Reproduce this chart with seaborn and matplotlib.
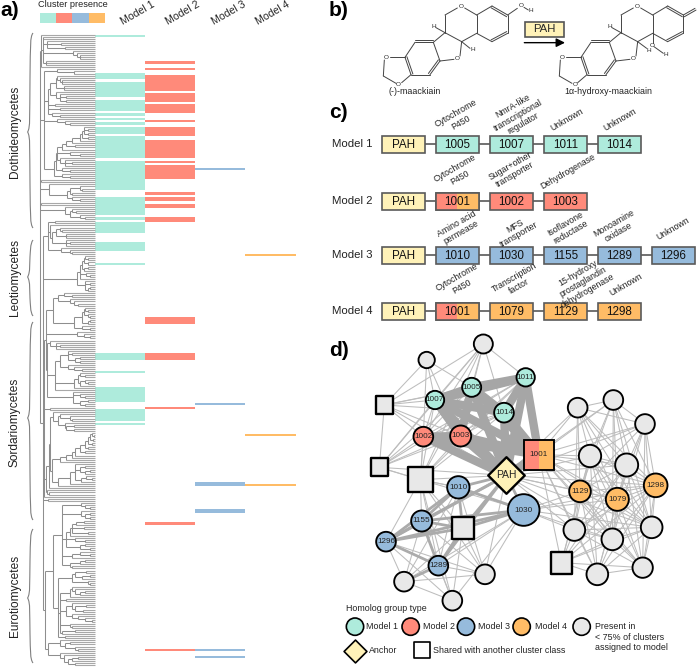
# fungal gene cluster figure: presence table, reaction, cluster models, network

import itertools
import numpy as np
import pandas as pd
import matplotlib
matplotlib.use("Agg")
import matplotlib.pyplot as plt
from matplotlib.colors import ListedColormap
from matplotlib.patches import PathPatch, Rectangle
from matplotlib.path import Path
import seaborn as sns

W, H = 699, 667

TEAL = "#AEEBDC"
RED = "#FF8A7A"
BLUE = "#96BBDC"
ORANGE = "#FFBC66"
CREAM = "#FFF2B8"
NODE_GREY = "#E8E8E8"

# a) presence ranges, in picture rows along the tree
model_1_rows = [(34.5, 36.5), (73, 79), (82, 97), (100, 111), (113, 116), (118, 120), (122, 125),
                (127, 134), (136, 158), (161, 190), (197, 215), (217, 220), (222, 233), (242, 251),
                (263, 265), (353, 360), (371, 373), (387, 402), (409, 421), (423, 425)]
model_2_rows = [(61, 64), (68, 70), (75, 91), (93, 102), (104, 113), (120, 122), (127, 136),
                (140, 158), (161, 163), (165, 179), (192, 195), (197, 201), (204, 208), (217, 222),
                (317, 324), (353, 360), (407, 409), (522, 525), (649, 651)]
model_3_rows = [(168, 170), (403, 405), (482, 486), (509, 513), (649, 651), (656, 658)]
model_4_rows = [(254, 256), (434, 436), (484, 486)]
model_labels = ["Model 1", "Model 2", "Model 3", "Model 4"]

# a) tree: x of the node where each tip joins the next one
tree_gaps = [
    41, 43, 43, 47, 61, 47, 65, 43, 73, 77, 80, 80, 43, 46, 46, 41, 40,
    57, 74, 44,
    57, 60, 62, 62, 56, 64, 64, 50, 56, 60, 66, 60, 66, 48, 55, 48, 60, 48, 52, 60, 44,
    57, 65, 70, 44,
    84, 88, 84, 88, 82, 88, 80, 72, 66, 75, 62, 57, 70, 80, 57, 60, 65, 72, 65, 56, 62, 70, 54, 62, 70, 40,
    41, 40,
    49, 80, 82, 70, 72, 67, 72, 80, 40, 41, 40,
    65, 72, 76, 70, 80, 85, 40,
    55, 48, 50, 60, 62, 56, 66, 66, 52, 66, 70, 66, 48, 61, 70, 72, 43,
    85, 88, 84, 88, 82, 88, 84, 80, 86, 90, 80, 77, 85, 90, 85, 90, 88, 43,
    64, 72, 58, 70, 74, 78, 53, 85, 88, 84, 88, 90, 82, 90, 88, 74, 82, 90, 46,
    77, 84, 90, 46,
    50, 56, 60, 56, 47,
    68, 72, 68, 80, 75, 80, 60, 68, 74, 82, 55,
    80, 85, 78, 85, 88, 80, 74, 55, 47,
    73, 80, 85, 73, 88, 80, 85, 44, 50, 44,
    53, 60, 70, 72, 58, 65, 74, 66, 74, 50,
    92, 94, 90, 93, 88, 92, 85, 88, 80, 85, 75, 72, 66, 60, 52,
    75, 85, 80, 90, 85, 75, 86, 92, 81, 70, 58, 49, 46, 47, 49, 44, 43, 48, 43,
    81, 85, 90, 62, 81, 90, 85, 90, 62, 84, 76, 72, 84, 72, 88, 70, 66, 75, 85, 66, 85, 80, 90, 62, 80, 90, 72, 62, 85, 80, 70,
    72, 53, 86, 75, 90, 82, 72, 88, 90, 58,
    72, 75, 85, 80, 70, 60, 66, 60, 72, 86, 75, 83, 66, 72, 78, 85, 92, 60,
    70, 72, 60, 75, 62, 58, 65, 45, 60, 70, 65, 75, 78, 48, 60, 64, 78, 72, 68, 75,
]
tree_y_top, tree_y_bottom = 34.5, 665
tree_x_end = 94.6

# a) clade labels: name, label centre, brace top, brace tip, brace bottom
clade_names = ["Dothideomycetes", "Leotiomycetes", "Sordariomycetes", "Eurotiomycetes"]
clade_centre = [132, 277, 422, 596]
brace_top = [33, 240, 322, 529]
brace_mid = [132, 277, 418, 598]
brace_bottom = [228, 316, 520, 663]

# c) cluster models: homolog groups and their annotations
cluster_1_ids = ["1005", "1007", "1011", "1014"]
cluster_2_ids = ["1001", "1002", "1003"]
cluster_3_ids = ["1010", "1030", "1155", "1289", "1296"]
cluster_4_ids = ["1001", "1079", "1129", "1298"]
cluster_1_notes = ["Cytochrome\nP450", "NmrA-like\ntranscriptional\nregulator", "Unknown", "Unknown"]
cluster_2_notes = ["Cytochrome\nP450", "Sugar+other\ntransporter", "Dehydrogenase"]
cluster_3_notes = ["Amino acid\npermease", "MFS\ntransporter", "Isoflavone\nreductase", "Monoamine\noxidase", "Unknown"]
cluster_4_notes = ["Cytochrome\nP450", "Transcription\nfactor", "15-hydroxy\nprostaglandin\ndehydrogenase", "Unknown"]

# d) network nodes
node_names = ["g1", "g2", "g3", "g4", "g5", "g6", "g7", "g8", "g9", "g10", "g11", "g12", "g13", "g14", "g15",
              "s1", "s2", "s3", "s4", "s5",
              "1005", "1007", "1011", "1014", "1002", "1003",
              "1010", "1030", "1155", "1296", "1289",
              "1129", "1079", "1298", "1001", "PAH"]
node_x = [320, 490, 773, 880, 975, 810, 920, 763, 877, 995, 832, 968, 252, 397, 495,
          193, 178, 301, 428, 724,
          455, 345, 617, 552, 310, 422,
          415, 611, 305, 198, 355,
          780, 892, 1007, 656, 559]
node_y = [90, 42, 233, 210, 282, 378, 405, 600, 628, 592, 733, 713, 755, 812, 733,
          225, 412, 449, 595, 698,
          172, 210, 142, 248, 320, 318,
          472, 540, 573, 635, 707,
          484, 508, 466, 374, 436]
node_size = [54, 62, 64, 64, 64, 72, 74, 70, 70, 70, 70, 66, 64, 64, 64,
             58, 58, 80, 72, 70,
             62, 60, 60, 64, 64, 68,
             72, 100, 68, 64, 64,
             70, 74, 76, 90, 78]
node_kind = ["grey"] * 15 + ["square"] * 5 + ["m1"] * 4 + ["m2"] * 2 + ["m3"] * 5 + ["m4"] * 3 + ["split", "anchor"]

heavy_edges = [("1005", "1011"), ("1007", "1005"), ("1007", "1014"), ("1007", "1011"), ("1007", "PAH"), ("1005", "PAH"),
               ("1014", "PAH"), ("1011", "PAH"), ("1002", "1003"), ("1002", "PAH"), ("1003", "PAH"), ("1005", "1014"),
               ("1011", "1014"), ("1011", "1001"), ("1014", "1001"), ("1005", "1001"), ("1003", "1001"), ("1002", "1001"),
               ("1007", "1003"), ("1005", "1003"), ("1007", "1001"), ("PAH", "1001")]
medium_edges = [("PAH", "1010"), ("PAH", "1030"), ("PAH", "1155"), ("PAH", "1296"), ("PAH", "1289"), ("PAH", "s4"),
                ("1010", "1155"), ("1010", "1296"), ("1010", "1030"), ("1155", "1296"), ("1155", "s4"), ("1296", "s4"),
                ("1296", "1289"), ("1155", "1289"), ("1289", "s4"), ("1030", "s4"), ("1010", "s4"), ("1289", "g13"),
                ("1155", "1030"), ("1296", "1030")]
left_group = ["g1", "g2", "s1", "s2", "s3", "1007", "1005", "1011", "1014", "1002", "1003"]
lower_group = ["s3", "1010", "1155", "1296", "1289", "s4", "g13", "g14", "g15", "1030"]
right_group = ["g3", "g4", "g5", "g6", "g7", "1129", "1079", "1298", "g8", "g9", "g10", "g11", "g12", "s5", "1001"]
hub_links = ["g3", "g4", "g5", "g6", "g7", "1129", "1079", "1298", "g8", "g9", "g10", "s1", "s2", "s3", "g15"]
skipped_edges = [("g1", "g2"), ("g1", "s2"), ("g1", "s3"), ("g3", "g11"), ("g4", "g11"), ("g3", "g12"), ("g4", "g12"),
                 ("g5", "s5"), ("g4", "s5"), ("g3", "s5"), ("g5", "g11"), ("g3", "g9"), ("g4", "g8"), ("g5", "g8"),
                 ("s1", "s3"), ("g14", "g15"), ("g13", "s3"), ("g14", "1010"), ("g1", "1011"), ("g1", "1014")]

sns.set_theme(style="white")
plt.rcParams["font.family"] = ["Liberation Sans", "DejaVu Sans"]

fig = plt.figure(figsize=(W / 100, H / 100), dpi=100)


def px_axes(left, top, right, bottom, xlim=None, ylim=None, zorder=1):
    # axes placed by picture pixels
    ax = fig.add_axes([left / W, 1 - bottom / H, (right - left) / W, (bottom - top) / H], zorder=zorder)
    ax.set_xlim(xlim if xlim else (left, right))
    ax.set_ylim(ylim if ylim else (bottom, top))
    ax.axis("off")
    ax.patch.set_alpha(0)
    return ax


main = px_axes(0, 0, W, H, zorder=3)

for letter, x, y in [("a)", 0, 11), ("b)", 329, 10), ("c)", 329, 112), ("d)", 329, 350)]:
    main.text(x, y, letter, fontsize=15, fontweight="bold", va="center", ha="left", color="black")

# ---- a) presence table
table = np.zeros((1268, 4))
for k, rows in enumerate([model_1_rows, model_2_rows, model_3_rows, model_4_rows]):
    for a, b in rows:
        table[int((a - 33) * 2):int((b - 33) * 2), k] = k + 1
bar_ax = fig.add_axes([95 / W, 0, 200.6 / W, 634 / H], zorder=1)
model_cmap = ListedColormap([TEAL, RED, BLUE, ORANGE])
sns.heatmap(table, mask=table == 0, cmap=model_cmap, vmin=1, vmax=4, cbar=False,
            xticklabels=False, yticklabels=False, ax=bar_ax)
bar_ax.axis("off")

key_ax = fig.add_axes([39.5 / W, 1 - 22.7 / H, 65.8 / W, 10.2 / H], zorder=1)
sns.heatmap(np.array([[1, 2, 3, 4]]), cmap=model_cmap, vmin=1, vmax=4, cbar=False,
            xticklabels=False, yticklabels=False, ax=key_ax)
key_ax.axis("off")
main.text(72.5, 4.5, "Cluster presence", fontsize=6.6, ha="center", va="center", color="#222222")

for label, x in zip(model_labels, [138, 183, 229, 273]):
    main.text(x, 13.5, label, fontsize=7.6, rotation=30, ha="center", va="center", rotation_mode="anchor")

# tree from the merge positions
n_tips = len(tree_gaps) + 1
tip_y = np.linspace(tree_y_top, tree_y_bottom, n_tips)
tree_h, tree_v, tip_h = [], [], []


def build(lo, hi):
    # tips lo..hi inclusive, returns (node x, node y)
    if lo == hi:
        return None, tip_y[lo]
    part = tree_gaps[lo:hi]
    node_at = min(part)
    cuts = [lo + i for i, g in enumerate(part) if g == node_at]
    starts = [lo] + [c + 1 for c in cuts]
    ends = cuts + [hi]
    child_y = []
    for s, e in zip(starts, ends):
        cx, cy = build(s, e)
        child_y.append(cy)
        if cx is None:
            tip_h.append((cy, node_at, tree_x_end))
        else:
            tree_h.append((cy, node_at, cx))
    tree_v.append((node_at, child_y[0], child_y[-1]))
    return node_at, (child_y[0] + child_y[-1]) / 2


build(0, n_tips - 1)
tip_arr = np.array(tip_h)
h_arr = np.array(tree_h)
v_arr = np.array(tree_v)
main.hlines(tip_arr[:, 0], tip_arr[:, 1], tip_arr[:, 2], color="#A8A8A8", lw=0.8)
main.hlines(h_arr[:, 0], h_arr[:, 1], h_arr[:, 2], color="#8E8E8E", lw=0.75)
main.vlines(v_arr[:, 0], v_arr[:, 1], v_arr[:, 2], color="#8E8E8E", lw=0.75)


def brace(y0, ym, y1):
    verts = [(33, y0), (30, y0 + 4), (30.5, y0 + 12), (30, y0 + (ym - y0) * 0.45),
             (29.5, ym - 14), (30.5, ym - 5), (27.6, ym),
             (30.5, ym + 5), (29.5, ym + 14), (30, y1 - (y1 - ym) * 0.45),
             (30.5, y1 - 12), (30, y1 - 4), (33, y1)]
    codes = [Path.MOVETO] + [Path.CURVE4] * 12
    main.add_patch(PathPatch(Path(verts, codes), fc="none", ec="#808080", lw=0.8))


for name, c, t, m, b in zip(clade_names, clade_centre, brace_top, brace_mid, brace_bottom):
    main.text(15, c, name, fontsize=8.6, rotation=90, ha="center", va="center", color="#222222")
    brace(t, m, b)

# ---- b) reaction, in crop units of a 3x view
chem = px_axes(320, 0, W, 112, xlim=(0, 1137), ylim=(336, 0), zorder=2)
ring_bonds = [(375, 45, 412, 24, 0), (434, 24, 470, 45, 0), (470, 45, 470, 100, 0), (470, 100, 425, 125, 0),
              (425, 125, 375, 98, 0), (375, 45, 375, 98, 0), (375, 98, 340, 127, 0), (340, 127, 285, 127, 1),
              (285, 127, 255, 172, 0), (255, 172, 273, 224, -1), (273, 224, 330, 224, 0), (330, 224, 360, 183, -1),
              (360, 183, 340, 127, 0), (360, 183, 402, 178, 0), (420, 168, 425, 125, 0), (375, 98, 348, 83, 0),
              (255, 172, 210, 172, 0), (193, 180, 190, 228, 0), (190, 228, 228, 250, 0), (245, 248, 273, 224, 0)]
left_only = [(470, 45, 516, 18, 0), (516, 18, 563, 45, 1), (563, 45, 592, 25, 0), (612, 22, 625, 30, 0),
             (563, 45, 563, 100, 0), (563, 100, 516, 125, 1), (516, 125, 470, 100, 0), (425, 125, 450, 145, 0)]
right_only = [(998, 45, 1043, 18, 0), (1043, 18, 1090, 45, 1), (1090, 45, 1125, 25, 1), (1090, 45, 1090, 100, 0),
              (1090, 100, 1043, 125, 1), (1043, 125, 998, 100, 0), (998, 100, 998, 130, 0), (1002, 140, 1030, 160, 0),
              (953, 125, 980, 145, 0)]


def draw_bonds(bonds, dx=0):
    for x0, y0, x1, y1, dbl in bonds:
        chem.plot([x0 + dx, x1 + dx], [y0, y1], color="#444444", lw=0.7, solid_capstyle="round")
        if dbl:
            nx, ny = -(y1 - y0), x1 - x0
            ln = np.hypot(nx, ny)
            off = 6 * dbl / ln
            chem.plot([x0 + dx + nx * off, x1 + dx + nx * off], [y0 + ny * off, y1 + ny * off], color="#444444", lw=0.7)


draw_bonds(ring_bonds)
draw_bonds(left_only)
draw_bonds(ring_bonds, dx=528)
draw_bonds(right_only)
for sym, x, y in [("O", 423, 18), ("O", 603, 17), ("H", 632, 33), ("H", 340, 78), ("H", 458, 148), ("O", 412, 174),
                  ("O", 200, 172), ("O", 236, 253), ("O", 951, 18), ("H", 868, 78), ("O", 940, 174), ("O", 728, 172),
                  ("O", 765, 253), ("O", 997, 136), ("H", 1038, 165), ("H", 985, 150)]:
    chem.text(x, y, sym, fontsize=4.6, ha="center", va="center", color="#222222")
chem.text(285, 276, "(-)-maackiain", fontsize=6.4, ha="center", va="center", color="#222222")
chem.text(865, 276, "1α-hydroxy-maackiain", fontsize=6.4, ha="center", va="center", color="#222222")
chem.add_patch(Rectangle((615, 65), 117, 45, fc=CREAM, ec="#555555", lw=1.2))
chem.text(673, 88, "PAH", fontsize=8.2, ha="center", va="center")
chem.annotate("", xy=(735, 128), xytext=(613, 128),
              arrowprops=dict(arrowstyle="-|>", color="black", lw=1.0, mutation_scale=13, shrinkA=0, shrinkB=0))

# ---- c) cluster models
row_top = [135.7, 192.7, 247, 302.7]
row_note_x = [(458, 518, 567, 620), (457, 513, 568), (459, 517, 568, 616, 673), (459, 517, 583, 626)]
row_note_y = [(118, 115, 120, 120), (173, 170, 172), (228, 230, 228, 228, 229), (282, 282, 282, 285)]
row_ids = [cluster_1_ids, cluster_2_ids, cluster_3_ids, cluster_4_ids]
row_notes = [cluster_1_notes, cluster_2_notes, cluster_3_notes, cluster_4_notes]
row_colour = [TEAL, RED, BLUE, ORANGE]
box_w, box_h, step = 43.3, 16.8, 54


def gene_box(x, y, colour, label):
    main.add_patch(Rectangle((x, y), box_w, box_h, fc=colour, ec="#5A5A5A", lw=1.2, zorder=3))
    main.text(x + box_w / 2, y + box_h / 2 + 0.6, label, fontsize=8.4, ha="center", va="center", zorder=5, color="#111111")


for r, (top, ids, notes, colour) in enumerate(zip(row_top, row_ids, row_notes, row_colour)):
    mid = top + box_h / 2
    main.text(331.5, mid, model_labels[r], fontsize=8.2, ha="left", va="center", color="#222222")
    main.plot([405, 381.7 + step * len(ids) + 20], [mid, mid], color="#666666", lw=1.3, zorder=2)
    gene_box(381.7, top, CREAM, "PAH")
    for i, (gid, note) in enumerate(zip(ids, notes)):
        x = 435.7 + step * i
        gene_box(x, top, colour, gid)
        if gid == "1001":
            # homolog group shared by models 2 and 4
            main.add_patch(Rectangle((x, top), box_w / 2, box_h, fc=RED, ec="none", zorder=3.1))
            main.add_patch(Rectangle((x + box_w / 2, top), box_w / 2, box_h, fc=ORANGE, ec="none", zorder=3.1))
            main.add_patch(Rectangle((x, top), box_w, box_h, fc="none", ec="#5A5A5A", lw=1.2, zorder=3.2))
        main.text(row_note_x[r][i], row_note_y[r][i], note, fontsize=6.3, rotation=30, ha="center", va="center",
                  ma="center", rotation_mode="anchor", linespacing=1.12, color="#222222")

# ---- d) network, in crop units of a 3x view
net = px_axes(320, 330, W, H, xlim=(0, 1137), ylim=(1011, 0), zorder=2)
nodes = pd.DataFrame({"name": node_names, "x": node_x, "y": node_y, "size": node_size, "kind": node_kind}).set_index("name")


def wanted(pairs):
    rows = []
    for n, (a, b) in enumerate(pairs):
        for end in (a, b):
            rows.append({"edge": n, "x": nodes.loc[end, "x"], "y": nodes.loc[end, "y"]})
    return pd.DataFrame(rows)


thin_edges = []
for a, b in itertools.chain(itertools.combinations(left_group, 2), itertools.combinations(lower_group, 2),
                            itertools.combinations(right_group, 2), [("PAH", h) for h in hub_links],
                            [("1030", h) for h in right_group[5:11]], [("s2", "s3"), ("s3", "1010"), ("s3", "1002")]):
    if (a, b) not in skipped_edges and (b, a) not in skipped_edges:
        thin_edges.append((a, b))

for pairs, colour, width in [(thin_edges, "#BDBDBD", 0.75), (medium_edges, "#ABABAB", 2.0), (heavy_edges, "#A6A6A6", 6.0)]:
    sns.lineplot(data=wanted(pairs), x="x", y="y", units="edge", estimator=None, sort=False,
                 color=colour, lw=width, ax=net, legend=False, zorder=1)

kind_style = {"grey": ("o", NODE_GREY), "square": ("s", NODE_GREY), "m1": ("o", TEAL), "m2": ("o", RED),
              "m3": ("o", BLUE), "m4": ("o", ORANGE), "split": ("s", RED), "anchor": ("D", CREAM)}
for kind, group in nodes.groupby("kind"):
    mark, colour = kind_style[kind]
    scale = 0.24 if mark != "D" else 0.255
    edge_w = 1.7 if mark == "s" or mark == "D" else 1.35
    sns.scatterplot(x=group["x"].values, y=group["y"].values, s=((group["size"].values - 5) * scale) ** 2,
                    marker=mark, color=colour, edgecolor="black", linewidth=edge_w, ax=net, zorder=3, legend=False)

sx, sy, half = nodes.loc["1001", "x"], nodes.loc["1001", "y"], 45
net.add_patch(Rectangle((sx, sy - half), half, half * 2, fc=ORANGE, ec="none", zorder=4))
net.add_patch(Rectangle((sx - half, sy - half), half, half * 2, fc=RED, ec="none", zorder=4))
net.add_patch(Rectangle((sx - half, sy - half), half * 2, half * 2, fc="none", ec="black", lw=1.35, zorder=4))

for name, row in nodes.iterrows():
    if name[0] in "gs":
        continue
    net.text(row["x"], row["y"], name, fontsize=7.4 if name == "PAH" else 5.9, ha="center", va="center", zorder=6,
             color="#222222")

# legend of panel d
net.text(77, 836, "Homolog group type", fontsize=6.4, ha="left", va="center", color="#222222")
legend_x = [105, 272, 438, 605, 785]
legend_col = [TEAL, RED, BLUE, ORANGE, NODE_GREY]
legend_txt_x = [137, 308, 474, 644]
sns.scatterplot(x=legend_x, y=[890] * 5, s=(52 * 0.24) ** 2, hue=legend_x, palette=dict(zip(legend_x, legend_col)),
                edgecolor="black", linewidth=1.2, ax=net, legend=False, zorder=3)
for label, x in zip(model_labels, legend_txt_x):
    net.text(x, 890, label, fontsize=6.4, ha="left", va="center", color="#222222")
net.text(825, 921, "Present in\n< 75% of clusters\nassigned to model", fontsize=6.4, ha="left", va="center",
         linespacing=1.22, color="#222222")
sns.scatterplot(x=[105], y=[962], s=135, marker="D", color=CREAM, edgecolor="black", linewidth=1.2, ax=net, legend=False)
net.text(148, 962, "Anchor", fontsize=6.4, ha="left", va="center", color="#222222")
sns.scatterplot(x=[305], y=[961], s=(46 * 0.24) ** 2, marker="s", color="white", edgecolor="black", linewidth=1.2, ax=net, legend=False)
net.text(340, 962, "Shared with another cluster class", fontsize=6.4, ha="left", va="center", color="#222222")

net.set_xlim(0, 1137)
net.set_ylim(1011, 0)
net.axis("off")
chem.set_xlim(0, 1137)
chem.set_ylim(336, 0)
main.set_xlim(0, W)
main.set_ylim(H, 0)

fig.savefig("out.png", dpi=100, facecolor="white")
